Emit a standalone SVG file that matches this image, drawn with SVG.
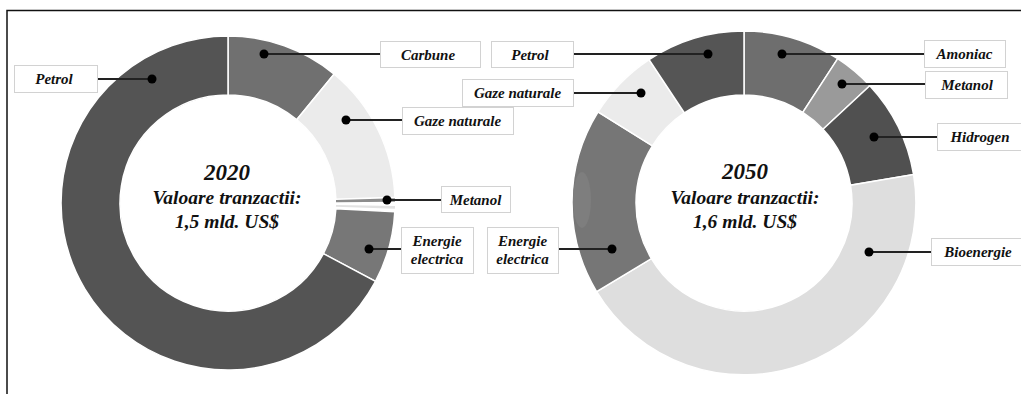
<svg xmlns="http://www.w3.org/2000/svg" width="1021" height="394" viewBox="0 0 1021 394">
<style>
.sl{stroke:#fff;stroke-width:1.5}
.box{fill:#fff;stroke:#d2d2d2;stroke-width:1}
.lbl{font-family:"Liberation Serif","Times New Roman",serif;font-weight:bold;font-style:italic;font-size:15px;fill:#111;text-anchor:middle}
.ctr{font-family:"Liberation Serif","Times New Roman",serif;font-weight:bold;font-style:italic;fill:#111;text-anchor:middle}
.con{stroke:#222;stroke-width:2;fill:none}
.dot{fill:#000}
</style>
<rect width="1021" height="394" fill="#fff"/>
<path d="M7,394 L7,10.5 L1021,10.5" fill="none" stroke="#111" stroke-width="1.5"/>

<g id="donut-2020">
<path class="sl" fill="#707070" d="M228,36 A167,167 0 0 1 334.2,74.1 L296.7,119.7 A108,108 0 0 0 228,95 Z"/>
<path class="sl" fill="#ebebeb" d="M334.2,74.1 A167,167 0 0 1 394.9,197.2 L335.9,199.2 A108,108 0 0 0 296.7,119.7 Z"/>
<path fill="#8c8c8c" d="M394.9,198.3 A167,167 0 0 1 395,201.8 L336,202.2 A108,108 0 0 0 336,200 Z"/>
<path fill="#e2e2e2" d="M395,205.9 A167,167 0 0 1 394.9,208.8 L335.9,206.8 A108,108 0 0 0 336,204.9 Z"/>
<path class="sl" fill="#777" d="M394.8,211.7 A167,167 0 0 1 375.5,281.4 L323.4,253.7 A108,108 0 0 0 335.9,208.7 Z"/>
<path class="sl" fill="#545454" d="M375.5,281.4 A167,167 0 1 1 228,36 L228,95 A108,108 0 1 0 323.4,253.7 Z"/>
<text class="ctr" x="227" y="180" font-size="23">2020</text>
<text class="ctr" x="227" y="204" font-size="19.5">Valoare tranzactii:</text>
<text class="ctr" x="227" y="228" font-size="19.5">1,5 mld. US$</text>
</g>

<g id="donut-2050">
<path class="sl" fill="#6e6e6e" d="M744,31 A172,172 0 0 1 837.7,58.7 L802.8,112.4 A108,108 0 0 0 744,95 Z"/>
<path class="sl" fill="#9a9a9a" d="M837.7,58.7 A172,172 0 0 1 869.8,85.7 L823,129.3 A108,108 0 0 0 802.8,112.4 Z"/>
<path class="sl" fill="#505050" d="M869.8,85.7 A172,172 0 0 1 913.6,174.6 L850.5,185.2 A108,108 0 0 0 823,129.3 Z"/>
<path class="sl" fill="#dedede" d="M913.6,174.6 A172,172 0 0 1 596.6,291.6 L651.4,258.6 A108,108 0 0 0 850.5,185.2 Z"/>
<path class="sl" fill="#767676" d="M596.6,291.6 A172,172 0 0 1 598.1,111.9 L652.4,145.8 A108,108 0 0 0 651.4,258.6 Z"/>
<ellipse cx="582" cy="200" rx="9" ry="28" fill="#7e7e7e"/>
<path class="sl" fill="#ebebeb" d="M598.1,111.9 A172,172 0 0 1 649.1,59.6 L684.4,112.9 A108,108 0 0 0 652.4,145.8 Z"/>
<path class="sl" fill="#555" d="M649.1,59.6 A172,172 0 0 1 744,31 L744,95 A108,108 0 0 0 684.4,112.9 Z"/>
<text class="ctr" x="745" y="179" font-size="23">2050</text>
<text class="ctr" x="745" y="204" font-size="19.5">Valoare tranzactii:</text>
<text class="ctr" x="745" y="228" font-size="19.5">1,6 mld. US$</text>
</g>

<g id="connectors">
<line class="con" x1="97" y1="79" x2="152" y2="79"/>
<line class="con" x1="264" y1="54" x2="380" y2="54"/>
<line class="con" x1="346" y1="120" x2="402" y2="120"/>
<line class="con" x1="387" y1="200" x2="441" y2="200"/>
<line class="con" x1="369" y1="249" x2="401" y2="249"/>
<line class="con" x1="573" y1="54" x2="708" y2="54"/>
<line class="con" x1="573" y1="93" x2="641" y2="93"/>
<line class="con" x1="558" y1="249" x2="612" y2="249"/>
<line class="con" x1="782" y1="54" x2="924" y2="54"/>
<line class="con" x1="842" y1="84" x2="925" y2="84"/>
<line class="con" x1="874" y1="137" x2="937" y2="137"/>
<line class="con" x1="869" y1="252" x2="931" y2="252"/>
<circle class="dot" cx="152" cy="79" r="4.5"/>
<circle class="dot" cx="264" cy="54" r="4.5"/>
<circle class="dot" cx="346" cy="120" r="4.5"/>
<circle class="dot" cx="387" cy="200" r="4.5"/>
<circle class="dot" cx="369" cy="249" r="4.5"/>
<circle class="dot" cx="708" cy="54" r="4.5"/>
<circle class="dot" cx="641" cy="93" r="4.5"/>
<circle class="dot" cx="612" cy="249" r="4.5"/>
<circle class="dot" cx="782" cy="54" r="4.5"/>
<circle class="dot" cx="842" cy="84" r="4.5"/>
<circle class="dot" cx="874" cy="137" r="4.5"/>
<circle class="dot" cx="869" cy="252" r="4.5"/>
</g>

<g id="lbl-petrol-2020"><rect class="box" x="14.5" y="65.5" width="83" height="27"/><text class="lbl" x="54" y="84">Petrol</text></g>
<g id="lbl-carbune-2020"><rect class="box" x="380.5" y="41.5" width="100" height="26"/><text class="lbl" x="428" y="60">Carbune</text></g>
<g id="lbl-gaze-2020"><rect class="box" x="402.5" y="107.5" width="111" height="27"/><text class="lbl" x="457.5" y="126">Gaze naturale</text></g>
<g id="lbl-metanol-2020"><rect class="box" x="441.5" y="186.5" width="69" height="26"/><text class="lbl" x="475.5" y="205">Metanol</text></g>
<g id="lbl-energie-2020"><rect class="box" x="401.5" y="227.5" width="72" height="46"/><text class="lbl" x="437" y="246">Energie</text><text class="lbl" x="437" y="264">electrica</text></g>

<g id="lbl-petrol-2050"><rect class="box" x="491.5" y="41.5" width="82" height="26"/><text class="lbl" x="530" y="60">Petrol</text></g>
<g id="lbl-gaze-2050"><rect class="box" x="462.5" y="79.5" width="111" height="27"/><text class="lbl" x="517.5" y="98">Gaze naturale</text></g>
<g id="lbl-energie-2050"><rect class="box" x="487.5" y="227.5" width="71" height="46"/><text class="lbl" x="522.5" y="246">Energie</text><text class="lbl" x="522.5" y="264">electrica</text></g>
<g id="lbl-amoniac-2050"><rect class="box" x="924.5" y="40.5" width="81" height="27"/><text class="lbl" x="964.5" y="59">Amoniac</text></g>
<g id="lbl-metanol-2050"><rect class="box" x="925.5" y="71.5" width="82" height="27"/><text class="lbl" x="967" y="90">Metanol</text></g>
<g id="lbl-hidrogen-2050"><rect class="box" x="937.5" y="123.5" width="88" height="27"/><text class="lbl" x="980" y="142">Hidrogen</text></g>
<g id="lbl-bioenergie-2050"><rect class="box" x="931.5" y="238.5" width="94" height="27"/><text class="lbl" x="978" y="257">Bioenergie</text></g>
</svg>
